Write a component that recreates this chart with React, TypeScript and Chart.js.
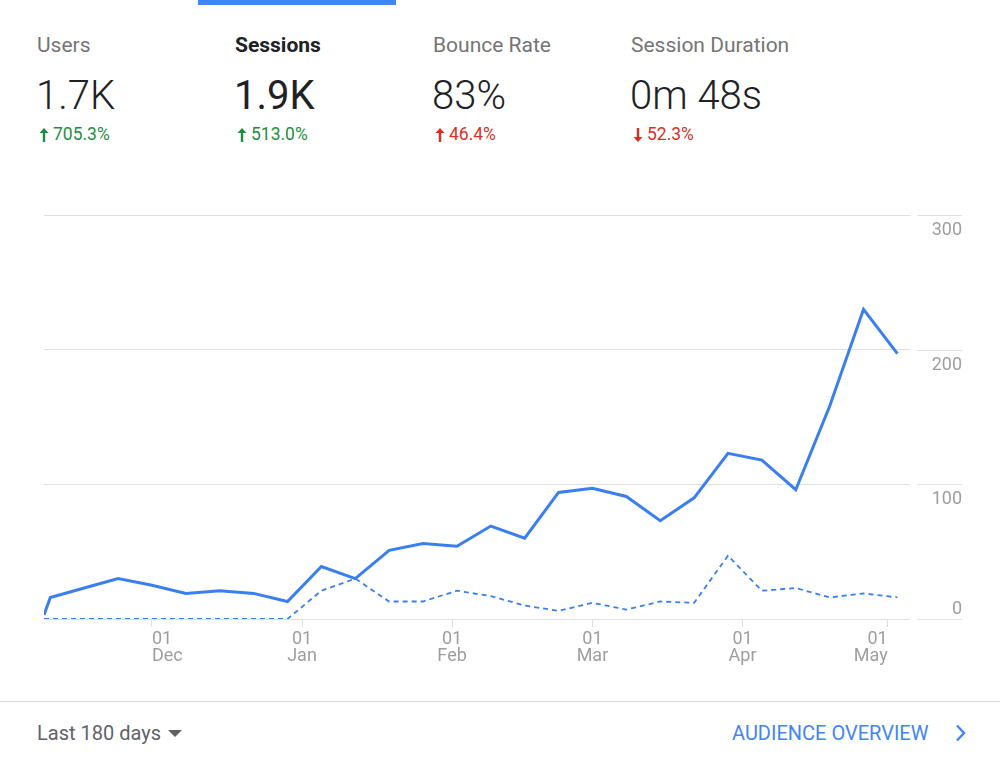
import React, { useEffect, useRef } from "react";
import { Chart, registerables } from "chart.js";

Chart.register(...registerables);

// Days counted from 01 Dec (0 = 01 Dec, 31 = 01 Jan, ...)
const weekDays = [
  -22.3, -21, -14, -7, 0, 7, 14, 21, 28, 35, 42, 49, 56, 63, 70, 77, 84, 91,
  98, 105, 112, 119, 126, 133, 140, 147, 154,
];
const sessions = [
  3, 16, 23, 30, 25, 19, 21, 19, 13, 39, 30, 51, 56, 54, 69, 60, 94, 97, 91,
  73, 90, 123, 118, 96, 158, 230, 197,
];
const previousSessions = [
  0, 0, 0, 0, 0, 0, 0, 0, 0, 21, 30, 13, 13, 21, 17, 10, 6, 12, 7, 13, 12, 47,
  21, 23, 16, 19, 16,
];
const monthTickDays = [0, 31, 62, 91, 122, 152];
const monthNames = ["Dec", "Jan", "Feb", "Mar", "Apr", "May"];
const monthAlign: CanvasTextAlign[] = ["left", "center", "center", "center", "center", "right"];
const yTickValues = [0, 100, 200, 300];

const kpiLabels = ["Users", "Sessions", "Bounce Rate", "Session Duration"];
const kpiValues = ["1.7K", "1.9K", "83%", "0m 48s"];
const kpiChanges = ["705.3%", "513.0%", "46.4%", "52.3%"];
const kpiUp = [true, true, true, false];
const kpiGood = [true, true, false, false];
const selectedKpi = 1;

const BLUE = "#3a7ef0";
const GRID = "#e0e0e0";
const AXIS_TEXT = "#9e9e9e";
const FONT = "Roboto, 'Noto Sans', sans-serif";

const axisLabelsPlugin = {
  id: "axisLabels",
  afterDraw(chart: any) {
    const { ctx, chartArea, scales } = chart;
    const y = scales.y;
    const x = scales.x;
    ctx.save();
    // right-hand tick segments and value labels
    ctx.strokeStyle = GRID;
    ctx.lineWidth = 1;
    ctx.fillStyle = AXIS_TEXT;
    ctx.font = `18px ${FONT}`;
    ctx.textAlign = "right";
    ctx.textBaseline = "middle";
    yTickValues.forEach((v) => {
      const py = Math.round(y.getPixelForValue(v)) + 0.5;
      ctx.beginPath();
      ctx.moveTo(chartArea.right + 7, py);
      ctx.lineTo(chartArea.right + 52, py);
      ctx.stroke();
      const off = v === 0 ? -10 : 15;
      ctx.fillText(String(v), chartArea.right + 52, py + off);
    });
    // month labels under the x ticks
    monthTickDays.forEach((d, i) => {
      const px = x.getPixelForValue(d);
      ctx.textAlign = monthAlign[i];
      ctx.fillText("01", px, chartArea.bottom + 20);
      ctx.fillText(monthNames[i], px, chartArea.bottom + 37);
    });
    ctx.restore();
  },
};

function SessionsChart() {
  const ref = useRef<HTMLCanvasElement>(null);
  useEffect(() => {
    if (!ref.current) return;
    const chart = new Chart(ref.current, {
      type: "line",
      data: {
        datasets: [
          {
            label: "Sessions",
            data: weekDays.map((d, i) => ({ x: d, y: sessions[i] })),
            borderColor: BLUE,
            borderWidth: 3,
            pointRadius: 0,
            tension: 0,
            fill: false,
            order: 0,
          },
          {
            label: "Previous period",
            data: weekDays.map((d, i) => ({ x: d, y: previousSessions[i] })),
            borderColor: BLUE,
            borderWidth: 1.8,
            borderDash: [5, 4],
            pointRadius: 0,
            tension: 0,
            fill: false,
            order: 1,
          },
        ],
      },
      options: {
        animation: false,
        responsive: false,
        maintainAspectRatio: false,
        layout: { padding: { left: 44, right: 90, top: 25, bottom: 0 } },
        plugins: { legend: { display: false }, tooltip: { enabled: false } },
        scales: {
          x: {
            type: "linear",
            min: -22.3,
            max: 156.6,
            afterBuildTicks: (s: any) => {
              s.ticks = monthTickDays.map((v) => ({ value: v }));
            },
            afterFit: (s: any) => {
              s.height = 71;
            },
            ticks: { display: false },
            grid: {
              drawOnChartArea: false,
              drawTicks: true,
              tickLength: 8,
              color: GRID,
            },
            border: { display: false },
          },
          y: {
            position: "right",
            min: 0,
            max: 300,
            afterBuildTicks: (s: any) => {
              s.ticks = yTickValues.map((v) => ({ value: v }));
            },
            afterFit: (s: any) => {
              s.width = 0;
            },
            ticks: { display: false },
            grid: { color: GRID, drawTicks: false, lineWidth: 1 },
            border: { display: false },
          },
        },
      },
      plugins: [axisLabelsPlugin],
    });
    return () => chart.destroy();
  }, []);
  return (
    <canvas
      ref={ref}
      width={1000}
      height={500}
      style={{ position: "absolute", left: 0, top: 190, width: 1000, height: 500 }}
    />
  );
}

function Arrow({ up, color }: { up: boolean; color: string }) {
  return (
    <svg
      width={10}
      height={14}
      viewBox="0 0 10 14"
      style={{ position: "absolute", left: 2, top: 4, transform: up ? "none" : "rotate(180deg)" }}
    >
      <polygon points="5,0 9.5,5 6.2,5 6.2,14 3.8,14 3.8,5 0.5,5" fill={color} />
    </svg>
  );
}

export default function App() {
  useEffect(() => {
    document.body.style.margin = "0";
  }, []);
  return (
    <div
      style={{
        position: "relative",
        width: 1000,
        height: 762,
        background: "#ffffff",
        fontFamily: FONT,
        overflow: "hidden",
      }}
    >
      <div style={{ position: "absolute", left: 198, top: 0, width: 198, height: 5, background: "#4285f4" }} />
      {kpiLabels.map((label, i) => {
        const left = 37 + 198 * i;
        const changeColor = kpiGood[i] ? "#1e8e3e" : "#d93025";
        const selected = i === selectedKpi;
        return (
          <React.Fragment key={label}>
            <div
              style={{
                position: "absolute",
                left,
                top: 35,
                fontSize: 21,
                lineHeight: "21px",
                whiteSpace: "nowrap",
                color: selected ? "#202124" : "#757575",
                fontWeight: selected ? 700 : 400,
              }}
            >
              {label}
            </div>
            <div
              style={{
                position: "absolute",
                left: left - 1,
                top: 76,
                fontSize: 40,
                lineHeight: "40px",
                fontWeight: selected ? 400 : 300,
                color: "#202124",
                whiteSpace: "nowrap",
              }}
            >
              {kpiValues[i]}
            </div>
            <div
              style={{
                position: "absolute",
                left: left,
                top: 124,
                height: 20,
                width: 150,
              }}
            >
              <Arrow up={kpiUp[i]} color={changeColor} />
              <span
                style={{
                  position: "absolute",
                  left: 16,
                  top: 2,
                  fontSize: 17.5,
                  lineHeight: "17.5px",
                  color: changeColor,
                  whiteSpace: "nowrap",
                }}
              >
                {kpiChanges[i]}
              </span>
            </div>
          </React.Fragment>
        );
      })}
      <SessionsChart />
      <div style={{ position: "absolute", left: 0, top: 701, width: 1000, height: 1, background: "#dadce0" }} />
      <div
        style={{
          position: "absolute",
          left: 37,
          top: 723,
          fontSize: 20,
          lineHeight: "20px",
          color: "#5f6368",
          whiteSpace: "nowrap",
        }}
      >
        Last 180 days
      </div>
      <svg width={14} height={8} style={{ position: "absolute", left: 168, top: 730 }}>
        <polygon points="0,0 14,0 7,7" fill="#616161" />
      </svg>
      <div
        style={{
          position: "absolute",
          left: 732,
          top: 723,
          fontSize: 20,
          lineHeight: "20px",
          color: "#4285f4",
          whiteSpace: "nowrap",
        }}
      >
        AUDIENCE OVERVIEW
      </div>
      <svg width={14} height={18} style={{ position: "absolute", left: 954, top: 724 }}>
        <polyline points="3,1.5 10,9 3,16.5" fill="none" stroke="#4285f4" strokeWidth={2.4} />
      </svg>
    </div>
  );
}
